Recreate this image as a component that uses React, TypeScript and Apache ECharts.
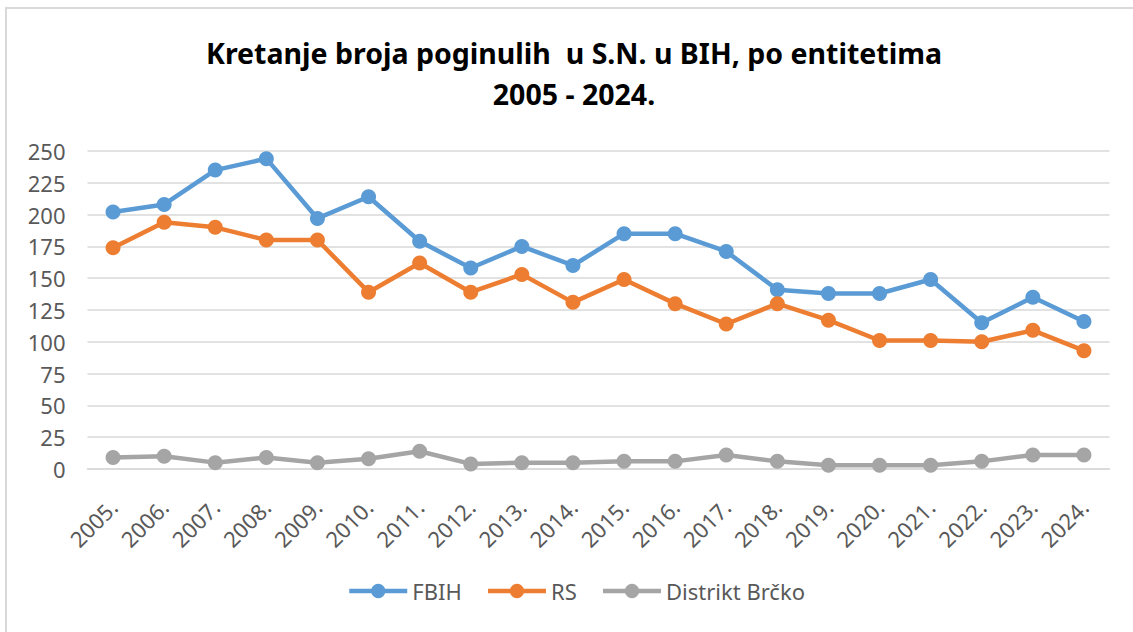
import React, { useEffect, useRef } from "react";
import * as echarts from "echarts";

const years = ["2005.", "2006.", "2007.", "2008.", "2009.", "2010.", "2011.", "2012.", "2013.", "2014.", "2015.", "2016.", "2017.", "2018.", "2019.", "2020.", "2021.", "2022.", "2023.", "2024."];
const fbih = [202, 208, 235, 244, 197, 214, 179, 158, 175, 160, 185, 185, 171, 141, 138, 138, 149, 115, 135, 116];
const rs = [174, 194, 190, 180, 180, 139, 162, 139, 153, 131, 149, 130, 114, 130, 117, 101, 101, 100, 109, 93];
const brcko = [9, 10, 5, 9, 5, 8, 14, 4, 5, 5, 6, 6, 11, 6, 3, 3, 3, 6, 11, 11];
const titleText = "Kretanje broja poginulih  u S.N. u BIH, po entitetima\n2005 - 2024.";

const FONT = "'Noto Sans', sans-serif";

export default function App() {
  const ref = useRef<HTMLDivElement>(null);
  useEffect(() => {
    document.body.style.margin = "0";
    const chart = echarts.init(ref.current!, null, { renderer: "svg" });
    const mk = (name: string, data: number[], color: string) => ({
      name,
      type: "line",
      data,
      symbol: "circle",
      symbolSize: 15,
      itemStyle: { color },
      lineStyle: { color, width: 4.5 },
    });
    chart.setOption({
      animation: false,
      backgroundColor: "#ffffff",
      graphic: [
        {
          type: "rect",
          shape: { x: 6, y: 8, width: 1300, height: 800 },
          style: { fill: "none", stroke: "#d9d9d9", lineWidth: 2 },
          silent: true,
        },
        {
          type: "text",
          x: 574,
          y: 73,
          silent: true,
          style: {
            text: titleText,
            align: "center",
            verticalAlign: "middle",
            fontFamily: FONT,
            fontSize: 28.5,
            fontWeight: "bold",
            fill: "#000000",
            lineHeight: 41,
          },
        },
      ],
      legend: {
        bottom: 25,
        left: 342,
        itemWidth: 58,
        itemHeight: 18,
        itemGap: 24,
        lineStyle: { width: 4.5 },
        textStyle: { fontFamily: FONT, fontSize: 22, color: "#595959" },
        data: ["FBIH", "RS", "Distrikt Brčko"],
      },
      grid: { left: 87.5, right: 23.5, top: 151, bottom: 163, containLabel: false },
      xAxis: {
        type: "category",
        data: years,
        boundaryGap: true,
        axisLine: { show: true, lineStyle: { color: "#d9d9d9", width: 1.5 } },
        axisTick: { show: false },
        axisLabel: {
          rotate: 45,
          margin: 34,
          interval: 0,
          fontFamily: FONT,
          fontSize: 22,
          color: "#595959",
        },
      },
      yAxis: {
        type: "value",
        min: 0,
        max: 250,
        interval: 25,
        axisLine: { show: false },
        axisTick: { show: false },
        splitLine: { lineStyle: { color: "#d9d9d9", width: 1.5 } },
        axisLabel: { margin: 22, fontFamily: FONT, fontSize: 22, color: "#595959" },
      },
      series: [
        mk("FBIH", fbih, "#5b9bd5"),
        mk("RS", rs, "#ed7d31"),
        mk("Distrikt Brčko", brcko, "#a5a5a5"),
      ],
    });
    return () => chart.dispose();
  }, []);
  return <div ref={ref} style={{ width: 1133, height: 632 }} />;
}
